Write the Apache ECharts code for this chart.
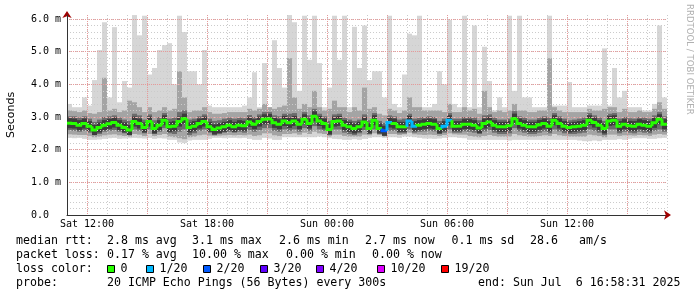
<!DOCTYPE html>
<html><head><meta charset="utf-8">
<script src="https://cdn.jsdelivr.net/npm/echarts@6/dist/echarts.min.js"></script>
<style>html,body{margin:0;padding:0;background:#fff}#c{width:697px;height:297px}</style>
</head><body><div id="c"></div>
<script>
// ---- data (hours since Sat 00:00, 15-minute bins starting Sat 11:00) ----
const startHour = 11;
const stepHours = 0.25;
const xTickHours = [12, 15, 18, 21, 24, 27, 30, 33, 36, 39];
const xLabelHours = [12, 18, 24, 30, 36];
const dayNames = ['Sat', 'Sun'];

// median RTT (ms)
const medianRtt = [
  2.81,2.80,2.75,2.80,2.72,2.60,2.68,2.75,2.79,2.83,2.75,2.68,
  2.60,2.86,2.80,2.68,2.86,2.65,2.75,2.90,2.70,2.72,2.86,2.95,
  2.68,2.72,2.80,2.86,2.70,2.62,2.66,2.70,2.75,2.70,2.75,2.73,
  2.85,2.78,2.86,2.93,2.94,2.82,2.78,2.88,2.82,2.88,2.78,2.93,
  2.80,3.02,2.88,2.80,2.62,2.86,2.88,2.75,2.70,2.65,2.70,2.85,
  2.65,2.90,2.65,2.58,2.83,2.80,2.70,2.70,2.88,2.72,2.75,2.78,
  2.80,2.78,2.65,2.72,2.90,2.72,2.72,2.78,2.78,2.75,2.66,2.80,
  2.85,2.75,2.70,2.70,2.73,2.95,2.80,2.75,2.70,2.70,2.76,2.80,
  2.72,2.90,2.80,2.72,2.68,2.70,2.72,2.75,2.90,2.83,2.75,2.65,
  2.88,2.90,2.72,2.78,2.73,2.72,2.78,2.75,2.72,2.82,2.93,2.78
];
// lost pings out of 20
const lossPings = [
  0,0,0,0,0,0,0,0,0,0,0,0, 0,0,0,0,0,0,0,0,0,0,0,0,
  0,0,0,0,0,0,0,0,0,0,0,0, 0,0,0,0,0,0,0,0,0,0,0,0,
  0,0,0,0,0,0,0,0,0,0,0,0, 0,0,0,2,1,0,0,0,1,1,0,0,
  0,0,0,1,1,0,0,0,0,0,0,0, 0,0,0,0,0,0,0,0,0,0,0,0,
  0,0,0,0,0,0,0,0,0,0,0,0, 0,0,0,0,0,0,0,0,0,0,0,0
];
// smoke envelope (ms)
const smokeMin = [
  2.36,2.35,2.36,2.33,2.30,2.30,2.31,2.33,2.35,2.36,2.33,2.34,
  2.35,2.36,2.35,2.34,2.36,2.33,2.35,2.34,2.30,2.30,2.22,2.20,
  2.28,2.30,2.30,2.30,2.33,2.36,2.36,2.35,2.36,2.36,2.35,2.36,
  2.33,2.30,2.30,2.36,2.34,2.30,2.30,2.38,2.38,2.38,2.38,2.38,
  2.38,2.38,2.40,2.38,2.35,2.33,2.32,2.30,2.30,2.32,2.30,2.33,
  2.36,2.38,2.38,2.36,2.38,2.38,2.36,2.40,2.40,2.38,2.36,2.34,
  2.34,2.33,2.34,2.36,2.38,2.38,2.36,2.35,2.30,2.30,2.30,2.30,
  2.30,2.30,2.30,2.30,2.28,2.30,2.30,2.30,2.30,2.30,2.30,2.30,
  2.30,2.30,2.30,2.30,2.30,2.30,2.28,2.26,2.26,2.28,2.26,2.30,
  2.30,2.30,2.32,2.30,2.33,2.35,2.35,2.35,2.33,2.33,2.35,2.36
];
const smokeLowMid = [
  2.47,2.46,2.45,2.45,2.42,2.38,2.40,2.44,2.46,2.47,2.44,2.42,
  2.40,2.48,2.46,2.42,2.48,2.42,2.45,2.48,2.40,2.38,2.35,2.32,
  2.38,2.40,2.44,2.46,2.43,2.42,2.43,2.44,2.45,2.44,2.45,2.44,
  2.46,2.42,2.44,2.50,2.50,2.44,2.42,2.48,2.48,2.50,2.46,2.52,
  2.48,2.55,2.50,2.48,2.40,2.46,2.46,2.42,2.40,2.40,2.40,2.46,
  2.44,2.50,2.45,2.40,2.48,2.48,2.45,2.47,2.52,2.47,2.46,2.45,
  2.46,2.45,2.42,2.45,2.50,2.47,2.46,2.46,2.42,2.40,2.38,2.42,
  2.45,2.42,2.40,2.40,2.40,2.48,2.44,2.42,2.40,2.40,2.42,2.44,
  2.42,2.48,2.44,2.42,2.40,2.40,2.40,2.40,2.46,2.44,2.42,2.38,
  2.46,2.46,2.42,2.44,2.44,2.43,2.45,2.44,2.42,2.46,2.48,2.46
];
const smokeLowDark = [
  2.60,2.58,2.55,2.58,2.52,2.45,2.48,2.55,2.58,2.60,2.55,2.50,
  2.45,2.62,2.58,2.50,2.62,2.48,2.55,2.66,2.50,2.48,2.55,2.62,
  2.45,2.50,2.58,2.62,2.52,2.45,2.48,2.52,2.55,2.52,2.55,2.52,
  2.60,2.55,2.60,2.66,2.66,2.58,2.55,2.62,2.58,2.62,2.55,2.66,
  2.58,2.72,2.62,2.58,2.45,2.62,2.62,2.52,2.48,2.45,2.50,2.60,
  2.48,2.62,2.48,2.42,2.58,2.58,2.50,2.50,2.62,2.52,2.55,2.56,
  2.58,2.56,2.48,2.52,2.62,2.52,2.52,2.56,2.55,2.52,2.48,2.56,
  2.60,2.52,2.48,2.48,2.50,2.66,2.56,2.52,2.48,2.48,2.52,2.56,
  2.50,2.62,2.56,2.50,2.48,2.48,2.50,2.52,2.62,2.58,2.52,2.45,
  2.62,2.62,2.50,2.55,2.52,2.50,2.55,2.52,2.50,2.58,2.62,2.55
];
const smokeHighDark = [
  3.02,3.02,2.98,3.02,2.95,2.85,2.92,3.00,3.02,3.05,2.98,2.92,
  2.88,3.10,3.05,2.92,3.08,2.90,3.00,3.12,2.95,2.98,3.15,3.20,
  2.92,2.95,3.02,3.08,2.95,2.88,2.90,2.95,2.98,2.95,2.98,2.96,
  3.06,3.00,3.08,3.15,3.15,3.05,3.02,3.10,3.10,3.12,3.00,3.15,
  3.05,3.25,3.10,3.02,2.88,3.08,3.10,2.98,2.92,2.88,2.92,3.08,
  2.90,3.12,2.88,2.82,3.05,3.02,2.92,2.95,3.10,2.95,2.98,3.00,
  3.02,3.00,2.88,2.95,3.12,2.95,2.95,3.00,3.00,2.98,2.90,3.05,
  3.08,2.98,2.92,2.92,2.95,3.18,3.02,2.98,2.92,2.92,2.98,3.02,
  2.98,3.12,3.02,2.95,2.90,2.92,2.95,2.98,3.12,3.05,2.98,2.88,
  3.10,3.12,2.95,3.00,2.96,2.95,3.00,2.98,2.95,3.05,3.15,3.02
];
const smokeHighMid = [
  3.20,3.18,3.15,3.20,3.12,3.10,3.15,4.20,3.20,3.25,3.15,3.20,
  3.50,3.45,3.30,3.15,3.30,3.15,3.20,3.30,3.20,3.25,4.40,3.60,
  3.15,3.20,3.20,3.30,3.15,3.10,3.10,3.12,3.15,3.15,3.15,3.15,
  3.25,3.20,3.25,3.40,3.30,3.25,3.30,3.35,4.80,3.60,3.25,3.40,
  3.30,3.80,3.30,3.20,3.25,3.50,3.30,3.30,3.15,3.30,3.20,3.90,
  3.25,3.30,3.10,3.05,3.25,3.20,3.12,3.20,3.60,3.30,3.30,3.20,
  3.20,3.20,3.20,3.15,3.40,3.15,3.15,3.30,3.20,3.25,3.10,3.80,
  3.30,3.15,3.20,3.15,3.20,3.40,3.20,3.20,3.15,3.15,3.20,3.20,
  4.80,3.30,3.20,3.15,3.15,3.15,3.15,3.15,3.25,3.20,3.20,3.25,
  3.30,3.30,3.15,3.25,3.15,3.15,3.20,3.15,3.15,3.25,3.45,3.25
];
const smokeMax = [
  3.40,3.30,3.30,3.60,3.35,4.13,5.05,5.90,3.60,5.75,3.45,4.10,
  3.90,6.12,5.50,6.10,4.30,4.50,5.05,5.20,5.26,4.00,6.10,5.60,
  4.40,4.40,4.00,5.05,3.35,3.30,3.30,3.30,3.30,3.30,3.30,3.35,
  3.60,4.37,3.30,4.65,3.30,5.35,4.50,3.90,6.12,5.90,3.80,6.10,
  4.75,6.10,4.65,3.30,3.90,6.10,4.75,6.10,3.30,5.76,4.50,5.80,
  4.13,4.40,4.40,3.60,6.10,3.40,3.30,4.30,5.55,5.50,6.10,3.30,
  3.30,3.40,4.40,4.00,5.97,3.40,3.30,6.10,3.30,5.80,3.30,5.15,
  4.10,3.20,3.60,3.30,6.10,3.80,6.10,3.60,3.60,3.30,3.30,3.30,
  6.10,3.35,3.35,3.35,4.07,3.30,3.30,3.30,3.35,3.35,3.35,5.10,
  3.35,4.50,3.60,3.80,3.30,3.30,3.30,3.20,3.20,3.40,5.80,3.60
];
const yMax = 6.122;

// legend
const legendLines = [
  [['median rtt:', 16], ['2.8 ms avg', 107], ['3.1 ms max', 192], ['2.6 ms min', 279], ['2.7 ms now', 365], ['0.1 ms sd', 451.5], ['28.6', 530], ['am/s', 579]],
  [['packet loss:', 16], ['0.17 % avg', 107], ['10.00 % max', 192], ['0.00 % min', 286], ['0.00 % now', 372]],
  [['loss color:', 16]],
  [['probe:', 16], ['20 ICMP Echo Pings (56 Bytes) every 300s', 107], ['end: Sun Jul  6 16:58:31 2025', 478]]
];
const lossLegend = [['0', 0], ['1/20', 1], ['2/20', 2], ['3/20', 3], ['4/20', 4], ['10/20', 10], ['19/20', 19]];
const lossLegendX = [107.5, 146.5, 203.5, 260.5, 316.5, 377.5, 441.5];
const lineY = [241, 255, 269, 283];

function lossColor(l) {
  if (l <= 0) return '#26ff00';
  if (l === 1) return '#00b8ff';
  if (l === 2) return '#0059ff';
  if (l === 3) return '#5e00ff';
  if (l < 10) return '#7e00ff';
  if (l < 19) return '#dd00ff';
  return '#ff0000';
}

const rows = medianRtt.map((m, i) => [
  startHour + i * stepHours, smokeMin[i], smokeLowMid[i], smokeLowDark[i],
  smokeHighDark[i], smokeHighMid[i], smokeMax[i], m, lossPings[i],
  i > 0 ? medianRtt[i - 1] : m
]);

const mono = '"DejaVu Sans Mono", "Liberation Mono", monospace';
const graphics = [];
legendLines.forEach((line, li) => {
  line.forEach(([t, x]) => graphics.push({
    type: 'text', x: x, y: lineY[li], silent: true,
    style: { text: t, font: '11.6px ' + mono, fill: '#000', verticalAlign: 'middle', align: 'left' }
  }));
});
lossLegend.forEach(([t, l], k) => {
  graphics.push({ type: 'rect', silent: true,
    shape: { x: lossLegendX[k], y: 265.5, width: 7, height: 7 },
    style: { fill: lossColor(l), stroke: '#000', lineWidth: 1 } });
  graphics.push({ type: 'text', x: lossLegendX[k] + 13, y: 269, silent: true,
    style: { text: t, font: '11.6px ' + mono, fill: '#000', verticalAlign: 'middle', align: 'left' } });
});
graphics.push({ type: 'text', x: 689, y: 4, rotation: -Math.PI / 2, silent: true,
  style: { text: 'RRDTOOL / TOBI OETIKER', font: '8.6px "DejaVu Sans"', fill: '#b0b0b0', verticalAlign: 'middle', align: 'left' } });

const chart = echarts.init(document.getElementById('c'), null, { renderer: 'canvas' });
const gridGray = '#cbcbcb', gridRed = '#e89a9a';
chart.setOption({
  animation: false,
  backgroundColor: '#fff',
  grid: { left: 67, right: 30, top: 15, bottom: 82, outerBoundsMode: 'none' },
  xAxis: [
    { type: 'value', min: 11, max: 41, interval: 1, position: 'bottom', z: 3,
      axisLine: { show: true, onZero: false, lineStyle: { color: '#333', width: 1 } },
      axisTick: { show: false }, axisLabel: { show: false },
      splitLine: { show: true, showMinLine: false, lineStyle: { color: gridGray, width: 1, type: [1, 2] } } },
    { type: 'value', min: 11, max: 41, position: 'bottom', z: 4,
      axisLine: { show: true, onZero: false, symbol: ['none', 'arrow'], symbolSize: [7, 7], symbolOffset: [0, 4],
        lineStyle: { color: '#a00000', width: 0 } },
      axisTick: { show: false, customValues: xTickHours },
      axisLabel: { show: true, customValues: xLabelHours, margin: 4, color: '#000', fontFamily: mono, fontSize: 10,
        formatter: v => dayNames[Math.floor(v / 24)] + ' ' + String(v % 24).padStart(2, '0') + ':00' },
      splitLine: { show: true, lineStyle: { color: gridRed, width: 1, type: [1, 1] } } }
  ],
  yAxis: [
    { type: 'value', min: 0, max: yMax, interval: 0.2, position: 'left', z: 3,
      axisLine: { show: true, symbol: ['none', 'arrow'], symbolSize: [7, 7], symbolOffset: [0, 4],
        lineStyle: { color: '#a00000', width: 0 } },
      axisTick: { show: false }, axisLabel: { show: false },
      splitLine: { show: true, showMinLine: false, showMaxLine: false, lineStyle: { color: gridGray, width: 1, type: [1, 2] } } },
    { type: 'value', min: 0, max: yMax, interval: 1, position: 'left', z: 4,
      name: 'Seconds', nameLocation: 'middle', nameGap: 50,
      nameTextStyle: { fontFamily: '"DejaVu Sans"', fontSize: 11, color: '#000' },
      axisLine: { show: true, lineStyle: { color: '#333', width: 1 } },
      axisTick: { show: false },
      axisLabel: { margin: 6, color: '#000', fontFamily: mono, fontSize: 10, showMaxLabel: false,
        formatter: v => v === 0 ? '0.0  ' : v.toFixed(1) + ' m' },
      splitLine: { show: true, showMinLine: false, showMaxLine: false, lineStyle: { color: gridRed, width: 1, type: [1, 1] } } }
  ],
  series: [
    { type: 'custom', name: 'smoke', z: 1, xAxisIndex: 0, yAxisIndex: 0, data: rows, clip: true,
      encode: { x: 0, y: 7 },
      renderItem: (params, api) => {
        const t = api.value(0);
        const x0 = api.coord([t, 0])[0], x1 = api.coord([t + stepHours, 0])[0];
        const y = v => api.coord([t, v])[1];
        const band = (a, b, c) => ({ type: 'rect', shape: { x: x0, y: y(b), width: x1 - x0, height: y(a) - y(b) }, style: { fill: c } });
        const ym = y(api.value(7));
        return { type: 'group', children: [
          band(api.value(1), api.value(6), '#d6d6d6'),
          band(api.value(2), api.value(5), '#a4a4a4'),
          band(api.value(3), api.value(4), '#6c6c6c'),
          { type: 'rect', shape: { x: x0, y: ym - 5, width: x1 - x0, height: 10 }, style: { fill: '#3c3c3c' } }
        ] };
      } },
    { type: 'custom', name: 'median', z: 5, xAxisIndex: 0, yAxisIndex: 0, data: rows, clip: true,
      encode: { x: 0, y: 7 },
      renderItem: (params, api) => {
        const t = api.value(0);
        const p0 = api.coord([t, api.value(7)]), p1 = api.coord([t + stepHours, api.value(7)]);
        const py = api.coord([t, api.value(9)])[1];
        return { type: 'polyline', shape: { points: [[p0[0], py], [p0[0], p0[1]], [p1[0], p1[1]]] },
          style: { stroke: lossColor(api.value(8)), lineWidth: 3, fill: null, lineJoin: 'miter', lineCap: 'butt' } };
      } }
  ],
  graphic: graphics
});
</script></body></html>
